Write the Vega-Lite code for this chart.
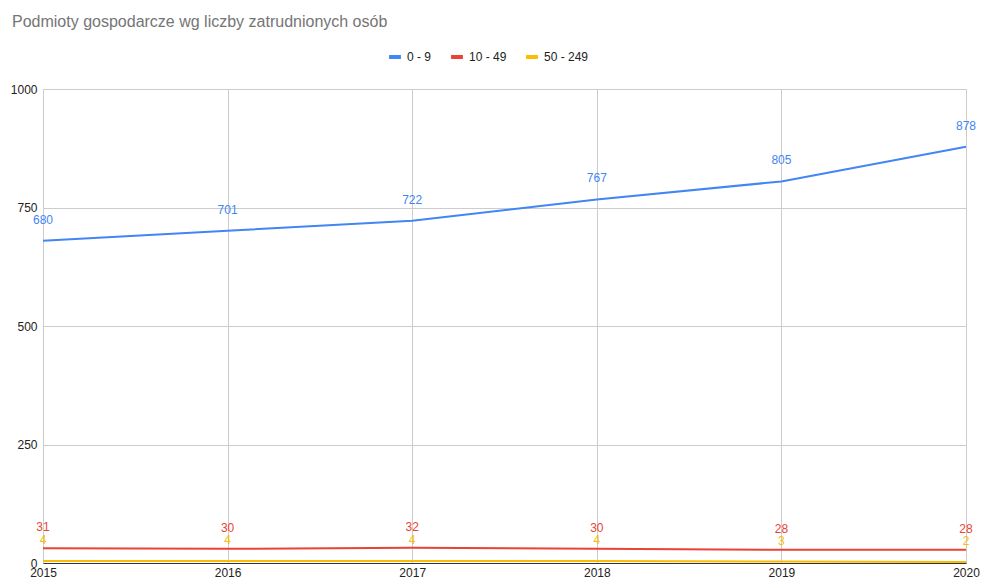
{
  "$schema": "https://vega.github.io/schema/vega-lite/v6.json",
  "width": 923,
  "height": 474,
  "autosize": {"type": "none"},
  "padding": {"left": 43, "top": 89, "right": 15, "bottom": 18},
  "background": "white",
  "config": {
    "font": "Liberation Sans",
    "view": {"stroke": null}
  },
  "title": {
    "text": "Podmioty gospodarcze wg liczby zatrudnionych osób",
    "anchor": "start",
    "frame": "group",
    "fontSize": 16,
    "fontWeight": "normal",
    "color": "#757575",
    "dx": -31,
    "dy": -15
  },
  "data": {
    "values": [
      {"year": 2015, "series": "0 - 9", "value": 680},
      {"year": 2016, "series": "0 - 9", "value": 701},
      {"year": 2017, "series": "0 - 9", "value": 722},
      {"year": 2018, "series": "0 - 9", "value": 767},
      {"year": 2019, "series": "0 - 9", "value": 805},
      {"year": 2020, "series": "0 - 9", "value": 878},
      {"year": 2015, "series": "10 - 49", "value": 31},
      {"year": 2016, "series": "10 - 49", "value": 30},
      {"year": 2017, "series": "10 - 49", "value": 32},
      {"year": 2018, "series": "10 - 49", "value": 30},
      {"year": 2019, "series": "10 - 49", "value": 28},
      {"year": 2020, "series": "10 - 49", "value": 28},
      {"year": 2015, "series": "50 - 249", "value": 4},
      {"year": 2016, "series": "50 - 249", "value": 4},
      {"year": 2017, "series": "50 - 249", "value": 4},
      {"year": 2018, "series": "50 - 249", "value": 4},
      {"year": 2019, "series": "50 - 249", "value": 3},
      {"year": 2020, "series": "50 - 249", "value": 2}
    ]
  },
  "encoding": {
    "x": {
      "field": "year",
      "type": "quantitative",
      "scale": {"domain": [2015, 2020], "nice": false, "zero": false},
      "axis": {
        "title": null,
        "values": [2015, 2016, 2017, 2018, 2019, 2020],
        "format": "d",
        "ticks": false,
        "domain": true,
        "domainColor": "#333333",
        "domainWidth": 1,
        "grid": true,
        "gridColor": "#cccccc",
        "labelColor": "#222222",
        "labelFontSize": 12,
        "labelPadding": 4,
        "labelFlush": false
      }
    },
    "y": {
      "field": "value",
      "type": "quantitative",
      "scale": {"domain": [0, 1000], "nice": false},
      "axis": {
        "title": null,
        "values": [0, 250, 500, 750, 1000],
        "format": "d",
        "ticks": false,
        "domain": false,
        "grid": true,
        "gridColor": "#cccccc",
        "labelColor": "#222222",
        "labelFontSize": 12,
        "labelPadding": 6
      }
    },
    "color": {
      "field": "series",
      "type": "nominal",
      "scale": {
        "domain": ["0 - 9", "10 - 49", "50 - 249"],
        "range": ["#4285F4", "#EA4335", "#FBBC04"]
      },
      "legend": {
        "title": null,
        "orient": "none",
        "direction": "horizontal",
        "legendX": 344,
        "legendY": -40,
        "symbolType": "stroke",
        "symbolStrokeWidth": 4,
        "symbolSize": 140,
        "labelFontSize": 12,
        "labelColor": "#222222",
        "columnPadding": 11,
        "symbolOffset": 0
      }
    }
  },
  "layer": [
    {
      "mark": {"type": "line", "strokeWidth": 2}
    },
    {
      "mark": {"type": "text", "dy": -21, "baseline": "middle", "align": "center", "fontSize": 12},
      "encoding": {
        "text": {"field": "value", "type": "quantitative"}
      }
    }
  ]
}
